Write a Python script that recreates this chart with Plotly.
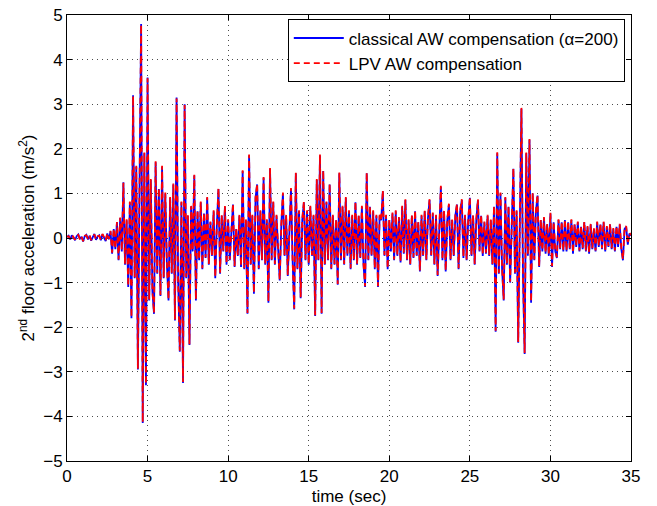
import plotly.graph_objects as go

dt = 0.1
classical = [
    0.02, 0.05, -0.03, 0.06, 0.01, -0.05, 0.04, 0.08, -0.02, 0.03,
    -0.08, 0.04, 0.07, -0.03, 0.05, -0.06, 0.02, 0.09, -0.04, 0.03,
    0.06, -0.05, 0.08, 0.02, -0.07, 0.10, -0.03, 0.15, -0.35, 0.20,
    -0.25, 0.35, -0.50, 0.45, -0.30, 1.25, -0.60, 0.40, -1.10, 0.80,
    -1.80, 3.20, -0.90, 1.60, -2.95, 1.10, 4.80, -4.15, 1.90, -3.30,
    3.60, -1.40, 1.30, -1.20, -1.70, 1.70, -0.80, 1.10, -1.30, 1.60,
    -0.90, 1.00, -0.60, -1.40, 0.90, -0.80, 1.20, -1.85, 3.15, -1.00,
    -2.55, 0.80, -3.25, 3.00, -0.90, 0.50, -2.40, 0.70, -0.30, 1.40,
    -1.40, 0.60, -0.50, 0.80, -0.70, 0.55, -0.45, 0.90, -0.60, 0.35,
    -0.40, 0.60, -0.90, 0.30, 1.10, -0.80, 0.50, -0.30, 0.70, -0.60,
    0.40, -0.50, 0.30, 0.75, -0.65, 0.20, -0.40, 0.50, -0.65, 1.50,
    -0.70, 0.40, -1.70, 1.85, -0.60, 0.50, -1.25, 0.90, 1.20, -0.70,
    0.60, -0.50, 1.35, -0.60, 0.40, -1.45, 1.55, -0.50, 0.80, -0.60,
    0.50, -0.40, -0.95, 0.30, 1.00, -0.40, 0.50, -0.85, 0.40, 1.10,
    -0.50, -1.60, 1.45, -0.70, 0.60, -1.35, 0.40, 0.80, -0.50, 0.60,
    -0.60, 0.70, -0.40, 0.50, -1.75, 1.30, -0.50, 1.85, -1.70, 1.50,
    -0.60, 0.80, -0.50, 1.20, -0.70, 0.50, -0.60, 0.40, -1.05, 1.45,
    -0.50, 0.70, -0.60, 0.90, -0.40, 0.60, -0.70, 0.50, -0.50, 0.80,
    -0.60, 0.50, -0.45, 0.70, -0.60, -1.10, 1.45, -0.50, 0.70, -0.40,
    0.60, -0.70, 0.50, -1.10, 0.50, 0.40, 1.05, -0.40, 0.50, -0.70,
    0.40, -0.30, 0.55, -0.50, 0.60, -0.40, 0.45, -0.55, 0.70, -0.35,
    0.85, -0.50, 0.40, -0.60, 0.50, -0.45, 0.60, -0.40, 0.35, -0.75,
    0.50, -0.40, 0.60, -0.50, 0.45, 0.85, -0.40, 0.55, -0.60, 0.50,
    -0.85, 0.40, 1.15, -0.50, 0.60, -0.75, 0.40, 0.75, -0.50, 0.40,
    -0.40, 0.50, 0.75, -0.70, 0.60, 0.85, -0.45, 0.50, -0.50, 0.40,
    0.90, -0.40, 0.50, -0.60, 0.40, 0.85, -0.30, 0.50, -0.40, 0.35,
    -0.35, 0.50, -0.40, 0.40, -0.60, 0.70, -2.10, 1.90, -0.80, 1.00,
    -0.70, -1.40, 0.90, -0.60, 0.70, -1.00, 0.50, 1.55, -0.80, 0.60,
    -2.35, 1.00, 2.90, -0.90, -2.60, 1.90, -0.40, 2.20, -1.45, 1.00,
    -0.50, 0.60, 0.95, -0.65, 0.40, -0.30, 0.45, -0.35, 0.30, -0.40,
    0.55, -0.65, 0.35, -0.30, -0.45, 0.40, -0.25, 0.35, -0.30, 0.40,
    -0.30, 0.35, -0.25, 0.40, -0.35, 0.30, -0.20, 0.35, -0.30, 0.25,
    -0.25, 0.35, -0.30, 0.25, -0.35, 0.30, -0.25, 0.20, -0.30, 0.35,
    -0.20, 0.30, -0.25, 0.35, -0.30, 0.25, -0.20, 0.30, -0.25, 0.20,
    -0.30, 0.25, -0.20, 0.30, -0.25, -0.50, 0.20, 0.25, -0.15, 0.10,
    0.05,
]
lpv = [
    0.03, 0.04, -0.02, 0.07, 0.02, -0.04, 0.05, 0.07, -0.03, 0.04,
    -0.07, 0.05, 0.06, -0.02, 0.06, -0.05, 0.03, 0.08, -0.03, 0.04,
    0.05, -0.04, 0.09, 0.03, -0.06, 0.11, -0.02, 0.16, -0.33, 0.21,
    -0.24, 0.36, -0.48, 0.46, -0.28, 1.24, -0.58, 0.42, -1.08, 0.82,
    -1.78, 3.18, -0.88, 1.62, -2.93, 1.12, 4.78, -4.13, 1.92, -3.28,
    3.58, -1.38, 1.32, -1.18, -1.68, 1.72, -0.78, 1.12, -1.28, 1.62,
    -0.88, 1.02, -0.58, -1.38, 0.92, -0.78, 1.22, -1.83, 3.13, -0.98,
    -2.53, 0.82, -3.23, 2.98, -0.88, 0.52, -2.38, 0.72, -0.28, 1.42,
    -1.38, 0.62, -0.48, 0.82, -0.68, 0.57, -0.43, 0.92, -0.58, 0.37,
    -0.38, 0.62, -0.88, 0.32, 1.12, -0.78, 0.52, -0.28, 0.72, -0.58,
    0.42, -0.48, 0.32, 0.77, -0.63, 0.22, -0.38, 0.52, -0.63, 1.52,
    -0.68, 0.42, -1.68, 1.87, -0.58, 0.52, -1.23, 0.92, 1.22, -0.68,
    0.62, -0.48, 1.37, -0.58, 0.42, -1.43, 1.57, -0.48, 0.82, -0.58,
    0.52, -0.38, -0.93, 0.32, 1.02, -0.38, 0.52, -0.83, 0.42, 1.12,
    -0.48, -1.58, 1.47, -0.68, 0.62, -1.33, 0.42, 0.82, -0.48, 0.62,
    -0.58, 0.72, -0.38, 0.52, -1.73, 1.32, -0.48, 1.87, -1.68, 1.52,
    -0.58, 0.82, -0.48, 1.22, -0.68, 0.52, -0.58, 0.42, -1.03, 1.47,
    -0.48, 0.72, -0.58, 0.92, -0.38, 0.62, -0.68, 0.52, -0.48, 0.82,
    -0.58, 0.52, -0.43, 0.72, -0.58, -1.08, 1.47, -0.48, 0.72, -0.38,
    0.62, -0.68, 0.52, -1.08, 0.52, 0.42, 1.07, -0.38, 0.52, -0.68,
    0.42, -0.28, 0.57, -0.48, 0.62, -0.38, 0.47, -0.53, 0.72, -0.33,
    0.87, -0.48, 0.42, -0.58, 0.52, -0.43, 0.62, -0.38, 0.37, -0.73,
    0.52, -0.38, 0.62, -0.48, 0.47, 0.87, -0.38, 0.57, -0.58, 0.52,
    -0.83, 0.42, 1.17, -0.48, 0.62, -0.73, 0.42, 0.77, -0.48, 0.42,
    -0.38, 0.52, 0.77, -0.68, 0.62, 0.87, -0.43, 0.52, -0.48, 0.42,
    0.92, -0.38, 0.52, -0.58, 0.42, 0.87, -0.28, 0.52, -0.38, 0.37,
    -0.33, 0.52, -0.38, 0.42, -0.58, 0.72, -2.08, 1.92, -0.78, 1.02,
    -0.68, -1.38, 0.92, -0.58, 0.72, -0.98, 0.52, 1.57, -0.78, 0.62,
    -2.33, 1.02, 2.92, -0.88, -2.58, 1.92, -0.38, 2.22, -1.43, 1.02,
    -0.48, 0.62, 0.97, -0.63, 0.42, -0.28, 0.47, -0.33, 0.32, -0.38,
    0.57, -0.63, 0.37, -0.28, -0.43, 0.42, -0.23, 0.37, -0.28, 0.42,
    -0.28, 0.37, -0.23, 0.42, -0.33, 0.32, -0.18, 0.37, -0.28, 0.27,
    -0.23, 0.37, -0.28, 0.27, -0.33, 0.32, -0.23, 0.22, -0.28, 0.37,
    -0.18, 0.32, -0.23, 0.37, -0.28, 0.27, -0.18, 0.32, -0.23, 0.22,
    -0.28, 0.27, -0.18, 0.32, -0.23, -0.48, 0.22, 0.27, -0.13, 0.12,
    0.06,
]
time = [round(i * dt, 2) for i in range(len(classical))]

x_ticks = [0, 5, 10, 15, 20, 25, 30, 35]
y_ticks = [-5, -4, -3, -2, -1, 0, 1, 2, 3, 4, 5]

font_family = "Liberation Sans, Arial, sans-serif"
fs = 17

fig = go.Figure()
fig.add_trace(go.Scatter(
    x=time, y=classical, mode="lines",
    name="classical AW compensation (\u03b1=200)",
    line=dict(color="#0000ff", width=1.8),
))
fig.add_trace(go.Scatter(
    x=time, y=lpv, mode="lines",
    name="LPV AW compensation",
    line=dict(color="#ff0000", width=1.8, dash="6px,4px"),
))

axis_common = dict(
    showline=True, linecolor="black", linewidth=1, mirror="ticks",
    ticks="inside", ticklen=5, tickcolor="black", automargin=False,
    showgrid=True, gridcolor="rgba(0,0,0,0.7)", gridwidth=1, griddash="1px,4px",
    zeroline=False, tickfont=dict(size=fs, color="black", family=font_family),
)

fig.update_layout(
    width=657, height=506,
    margin=dict(l=67, r=26, t=15, b=45, autoexpand=False),
    paper_bgcolor="white", plot_bgcolor="white",
    font=dict(family=font_family, color="black", size=fs),
    xaxis=dict(range=[0, 35], tickvals=x_ticks, **axis_common,
               title=dict(text="time (sec)", font=dict(size=fs), standoff=6)),
    yaxis=dict(range=[-5, 5], tickvals=y_ticks, **axis_common,
               title=dict(text="2<sup>nd</sup> floor acceleration (m/s<sup>2</sup>)",
                          font=dict(size=fs), standoff=4)),
    legend=dict(x=0.989, y=0.99, xanchor="right", yanchor="top",
                bgcolor="white", bordercolor="black", borderwidth=1,
                font=dict(size=fs, color="black", family=font_family),
                tracegroupgap=0, itemwidth=50),
    showlegend=True,
)

fig.write_html("out.html", config={"displayModeBar": False},
               post_script="document.body.style.margin='0';")
